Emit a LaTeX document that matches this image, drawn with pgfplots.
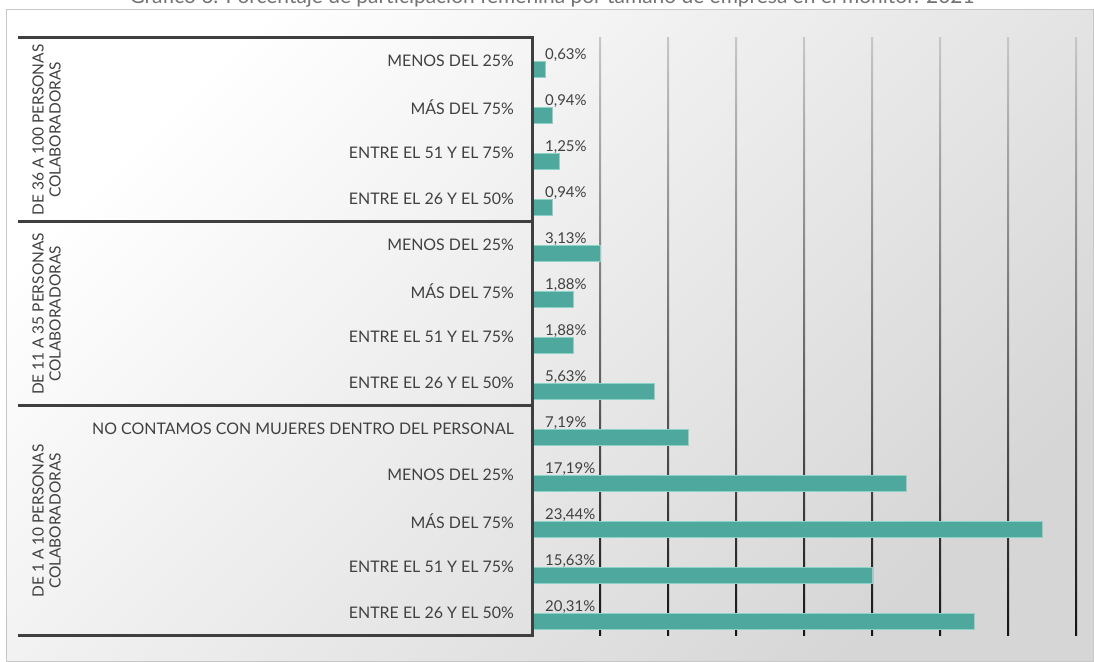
\documentclass[border=0pt]{standalone}
\usepackage{fontspec}
\setmainfont{Lato}
\usepackage{pgfplots}
\pgfplotsset{compat=1.18}
\definecolor{barfill}{HTML}{4FA89D}
\definecolor{baredge}{HTML}{8CD3C7}
\definecolor{txt}{HTML}{404040}
\definecolor{frame}{HTML}{3F3F3F}
\begin{document}
\begin{tikzpicture}
\useasboundingbox (0bp,0bp) rectangle (1094bp,662bp);
\fill[white] (0bp,0bp) rectangle (1094bp,662bp);
\shade[top color=white, bottom color=black!16, shading angle=45] (6bp,1bp) rectangle (1093bp,652bp);
\draw[black!22, line width=1bp] (6bp,1bp) rectangle (1093bp,652bp);
\node[anchor=base, text=black!55, font=\fontsize{21}{24}\selectfont, inner sep=0pt] at (552bp,658bp) {Gráfico 6. Porcentaje de participación femenina por tamaño de empresa en el monitor. 2021};
\begin{axis}[
  at={(532bp,26bp)}, anchor=south west,
  scale only axis, width=544bp, height=598bp,
  xmin=0, xmax=25, ymin=-0.5, ymax=12.5,
  axis line style={draw=none},
  tick style={draw=none},
  xtick=\empty,
  ytick={0,...,12},
  yticklabels={ENTRE EL 26 Y EL 50\%, ENTRE EL 51 Y EL 75\%, MÁS DEL 75\%, MENOS DEL 25\%, NO CONTAMOS CON MUJERES DENTRO DEL PERSONAL, ENTRE EL 26 Y EL 50\%, ENTRE EL 51 Y EL 75\%, MÁS DEL 75\%, MENOS DEL 25\%, ENTRE EL 26 Y EL 50\%, ENTRE EL 51 Y EL 75\%, MÁS DEL 75\%, MENOS DEL 25\%},
  yticklabel style={anchor=east, inner sep=0pt, xshift=-18bp, text=txt, font=\fontsize{16}{18}\selectfont},
  clip=false,
]
\pgfplotsinvokeforeach{3.125,6.25,9.375,12.5,15.625,18.75,21.875,25}{
  \shade[top color=black!22, bottom color=black!92] ([xshift=-1bp]axis cs:#1,12.5) rectangle ([xshift=1bp]axis cs:#1,-0.5);
}
\addplot[xbar, bar width=16bp, fill=barfill, draw=baredge, line width=0.8bp] table {
x y
20.31 -0.18
15.63 0.82
23.44 1.82
17.19 2.82
7.19 3.82
5.63 4.82
1.88 5.82
1.88 6.82
3.13 7.82
0.94 8.82
1.25 9.82
0.94 10.82
0.63 11.82
};
\addplot[draw=none, mark=none, nodes near coords, point meta=explicit symbolic,
  nodes near coords style={anchor=west, xshift=13bp, inner sep=0pt, text=txt, font=\fontsize{15}{17}\selectfont}]
  table[meta=lab] {
x y lab
0 0.12 20,31\%
0 1.12 15,63\%
0 2.12 23,44\%
0 3.12 17,19\%
0 4.12 7,19\%
0 5.12 5,63\%
0 6.12 1,88\%
0 7.12 1,88\%
0 8.12 3,13\%
0 9.12 0,94\%
0 10.12 1,25\%
0 11.12 0,94\%
0 12.12 0,63\%
};
\end{axis}
% hierarchical category frame
\draw[frame, line width=3bp] (18bp,624bp) -- (532bp,624bp);
\draw[frame, line width=3bp] (18bp,440bp) -- (532bp,440bp);
\draw[frame, line width=3bp] (18bp,256bp) -- (532bp,256bp);
\draw[frame, line width=3bp] (18bp,26bp) -- (532bp,26bp);
\draw[frame, line width=3bp] (532bp,625.5bp) -- (532bp,24.5bp);
\begin{scope}[every node/.style={rotate=90, align=center, text=txt, font=\fontsize{15.5}{17}\selectfont, inner sep=0pt}]
\node at (46.5bp,532bp) {DE 36 A 100 PERSONAS\\COLABORADORAS};
\node at (46.5bp,348bp) {DE 11 A 35 PERSONAS\\COLABORADORAS};
\node at (46.5bp,141bp) {DE 1 A 10 PERSONAS\\COLABORADORAS};
\end{scope}
\end{tikzpicture}
\end{document}
